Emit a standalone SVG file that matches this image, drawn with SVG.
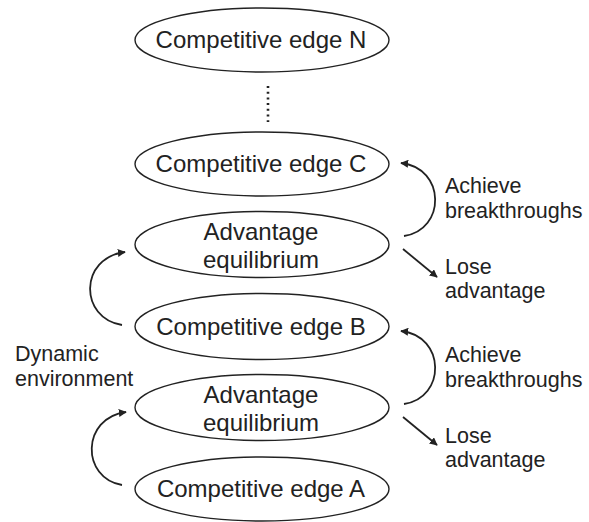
<svg xmlns="http://www.w3.org/2000/svg" width="589" height="522" viewBox="0 0 589 522">
<style>
.node ellipse{fill:#fff;stroke:#222;stroke-width:1.4}
.nt{font-family:"Liberation Sans",Arial,sans-serif;font-size:24px;fill:#222;text-anchor:middle}
.lbl{font-family:"Liberation Sans",Arial,sans-serif;font-size:21.5px;fill:#222}
.conn path{fill:none;stroke:#222;stroke-width:1.8}
</style>
<defs>
<marker id="ah" viewBox="0 0 10 10" refX="9" refY="5" markerWidth="8" markerHeight="8" markerUnits="userSpaceOnUse" orient="auto">
<path d="M0,0 L10,5 L0,10 z" fill="#222"/>
</marker>
</defs>
<rect width="589" height="522" fill="#fff"/>
<g id="edgeN" class="node"><ellipse cx="262" cy="40" rx="127" ry="32"/><text class="nt" x="261" y="48">Competitive edge N</text></g>
<g id="edgeC" class="node"><ellipse cx="262" cy="164" rx="127" ry="32"/><text class="nt" x="261" y="172">Competitive edge C</text></g>
<g id="equil2" class="node"><ellipse cx="262" cy="244.5" rx="127" ry="33"/><text class="nt" x="261" y="240">Advantage</text><text class="nt" x="261" y="268">equilibrium</text></g>
<g id="edgeB" class="node"><ellipse cx="262" cy="326.5" rx="127" ry="33"/><text class="nt" x="261" y="335">Competitive edge B</text></g>
<g id="equil1" class="node"><ellipse cx="262" cy="407.5" rx="127" ry="33"/><text class="nt" x="261" y="403">Advantage</text><text class="nt" x="261" y="431">equilibrium</text></g>
<g id="edgeA" class="node"><ellipse cx="262" cy="489" rx="127" ry="32"/><text class="nt" x="261" y="497">Competitive edge A</text></g>
<g id="connectors" class="conn">
<path d="M268,86 L268,122" stroke-width="2.6" stroke-dasharray="2 3.7" style="stroke-width:2.6"/>
<path d="M404,236 C446,230 446,168 401,163" marker-end="url(#ah)"/>
<path d="M403,249 L437,277" marker-end="url(#ah)"/>
<path d="M404,404 C446,398 446,336 401,331" marker-end="url(#ah)"/>
<path d="M403,417 L437,445" marker-end="url(#ah)"/>
<path d="M122,325 C79,318 79,258 125,252" marker-end="url(#ah)"/>
<path d="M122,485 C81,478 81,418 126,412" marker-end="url(#ah)"/>
</g>
<g id="labels">
<text class="lbl" x="445" y="193">Achieve</text>
<text class="lbl" x="445" y="218">breakthroughs</text>
<text class="lbl" x="445" y="274">Lose</text>
<text class="lbl" x="445" y="298">advantage</text>
<text class="lbl" x="445" y="362">Achieve</text>
<text class="lbl" x="445" y="387">breakthroughs</text>
<text class="lbl" x="445" y="443">Lose</text>
<text class="lbl" x="445" y="467">advantage</text>
<text class="lbl" x="15" y="361">Dynamic</text>
<text class="lbl" x="15" y="386">environment</text>
</g>
</svg>
